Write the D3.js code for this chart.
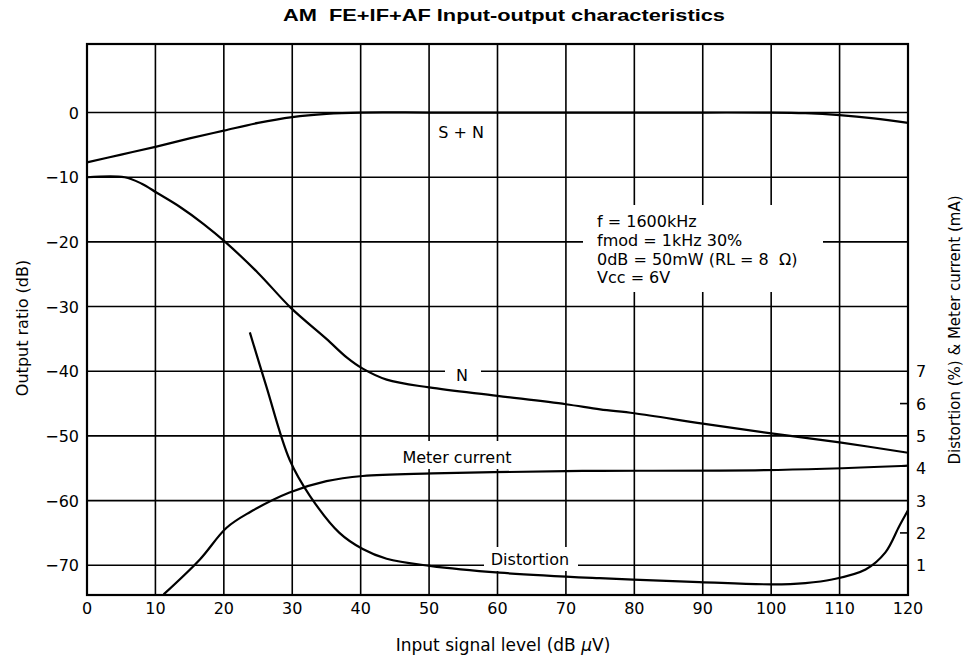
<!DOCTYPE html>
<html>
<head>
<meta charset="utf-8">
<script src="https://cdn.jsdelivr.net/npm/d3@7"></script>
<style>
  html, body { margin: 0; padding: 0; background: #fff; }
  svg { display: block; }
  text { font-family: "DejaVu Sans", "Liberation Sans", Arial, sans-serif; fill: #000; }
</style>
</head>
<body>
<div id="chart"></div>
<script>
// data
const xTicks = [0, 10, 20, 30, 40, 50, 60, 70, 80, 90, 100, 110, 120];
const yTicks = [0, -10, -20, -30, -40, -50, -60, -70];
const rightTicks = [1, 2, 3, 4, 5, 6, 7];

// S + N (dB)
const snX = [0, 5, 10, 15, 20, 25, 30, 35, 40, 50, 60, 70, 80, 90, 100, 105, 110, 115, 120];
const snY = [-7.7, -6.5, -5.3, -4.0, -2.8, -1.6, -0.7, -0.2, 0, 0, 0, 0, 0, 0, 0, -0.1, -0.4, -0.9, -1.6];

// N (dB)
const nX = [0, 5.5, 8, 10.2, 13.6, 17, 20.2, 25, 29.8, 35, 38, 40.3, 43.8, 50, 60, 70, 75, 80, 90, 100, 110, 120];
const nY = [-10, -10, -11, -12.4, -14.6, -17.2, -20, -24.8, -30.2, -35.0, -37.9, -39.6, -41.3, -42.5, -43.8, -45.1, -45.9, -46.5, -48.1, -49.6, -51, -52.6];

// Meter current (mA, right axis)
const meterX = [11.2, 16.5, 20.4, 23.8, 29.6, 35, 40.3, 50.5, 70, 75, 99, 119, 120];
const meterY = [0.1, 1.18, 2.16, 2.64, 3.25, 3.6, 3.76, 3.84, 3.91, 3.92, 3.94, 4.07, 4.08];

// Distortion (%, right axis)
const distX = [23.8, 26.2, 29.6, 32.6, 36.9, 40.3, 43.8, 50.1, 60.3, 74.9, 89.5, 100.2, 105, 108.9, 113.8, 116.7, 118.7, 120];
const distY = [8.2, 6.54, 4.27, 3.14, 2.0, 1.5, 1.2, 0.98, 0.77, 0.6, 0.48, 0.41, 0.45, 0.56, 0.87, 1.4, 2.2, 2.7];

const notes = ["f = 1600kHz", "fmod = 1kHz 30%", "0dB = 50mW (RL = 8  \u03A9)", "Vcc = 6V"];

const width = 968, height = 660;
const plotL = 87, plotR = 908, plotT = 44, plotB = 595;

const svg = d3.select('#chart').append('svg')
    .attr('width', width)
    .attr('height', height);

const x = d3.scaleLinear().domain([0, 120]).range([plotL, plotR]);
const y = d3.scaleLinear().domain([-74.6, 10.6]).range([plotB, plotT]);
// right axis: 1 unit = 5 dB, 0 at -75 dB
const yR = v => y(-75 + 5 * v);

const minus = s => String(s).replace('-', '\u2212');

// grid
const grid = svg.append('g').attr('stroke', '#000').attr('stroke-width', 1.6);
grid.selectAll('line.v')
    .data(xTicks.slice(1, -1))
    .enter().append('line')
    .attr('x1', d => x(d)).attr('x2', d => x(d))
    .attr('y1', plotT).attr('y2', plotB);
grid.selectAll('line.h')
    .data(yTicks)
    .enter().append('line')
    .attr('x1', plotL).attr('x2', plotR)
    .attr('y1', d => y(d)).attr('y2', d => y(d));

// white patches behind labels (grid is interrupted there)
const patches = [
    [583, 205, 240, 87],   // notes box
    [445, 366, 36, 20],    // N
    [398, 441, 118, 28],   // Meter current
    [484, 547, 94, 24]     // Distortion
];
svg.append('g').selectAll('rect')
    .data(patches)
    .enter().append('rect')
    .attr('x', d => d[0]).attr('y', d => d[1])
    .attr('width', d => d[2]).attr('height', d => d[3])
    .attr('fill', '#fff');

// frame
svg.append('rect')
    .attr('x', plotL).attr('y', plotT)
    .attr('width', plotR - plotL).attr('height', plotB - plotT)
    .attr('fill', 'none')
    .attr('stroke', '#000')
    .attr('stroke-width', 2.2);

// small ticks on the right axis
svg.append('g').selectAll('line')
    .data([2, 6])
    .enter().append('line')
    .attr('x1', plotR - 8).attr('x2', plotR)
    .attr('y1', d => yR(d)).attr('y2', d => yR(d))
    .attr('stroke', '#000').attr('stroke-width', 1.6);

// curves
const lineL = d3.line().x(d => x(d[0])).y(d => y(d[1])).curve(d3.curveCatmullRom.alpha(0.5));
const lineR = d3.line().x(d => x(d[0])).y(d => yR(d[1])).curve(d3.curveCatmullRom.alpha(0.5));

const curves = svg.append('g')
    .attr('fill', 'none')
    .attr('stroke', '#000')
    .attr('stroke-width', 2.2)
    .attr('stroke-linejoin', 'round');

curves.append('path').attr('d', lineL(d3.zip(snX, snY)));
curves.append('path').attr('d', lineL(d3.zip(nX, nY)));
curves.append('path').attr('d', lineR(d3.zip(meterX, meterY)));
curves.append('path').attr('d', lineR(d3.zip(distX, distY)));

// tick labels
svg.append('g').selectAll('text')
    .data(yTicks)
    .enter().append('text')
    .attr('x', 79)
    .attr('y', d => y(d) + 6)
    .attr('text-anchor', 'end')
    .style('font-size', '16px')
    .text(d => minus(d));

svg.append('g').selectAll('text')
    .data(xTicks)
    .enter().append('text')
    .attr('x', d => x(d))
    .attr('y', 614)
    .attr('text-anchor', 'middle')
    .style('font-size', '16px')
    .text(d => d);

svg.append('g').selectAll('text')
    .data(rightTicks)
    .enter().append('text')
    .attr('x', 916)
    .attr('y', d => yR(d) + 6)
    .style('font-size', '16px')
    .text(d => d);

// title
svg.append('text')
    .attr('x', 504)
    .attr('y', 21)
    .attr('text-anchor', 'middle')
    .attr('textLength', 442)
    .attr('lengthAdjust', 'spacingAndGlyphs')
    .style('white-space', 'pre')
    .style('font-family', '"Liberation Sans Narrow", "Liberation Sans", sans-serif')
    .style('font-weight', 'bold')
    .style('font-size', '17px')
    .text('AM  FE+IF+AF Input-output characteristics');

// axis titles
svg.append('text')
    .attr('transform', 'translate(28,328) rotate(-90)')
    .attr('text-anchor', 'middle')
    .style('font-size', '16px')
    .text('Output ratio (dB)');

const xt = svg.append('text')
    .attr('x', 503)
    .attr('y', 651)
    .attr('text-anchor', 'middle')
    .style('font-size', '17px');
xt.append('tspan').text('Input signal level (dB ');
xt.append('tspan').style('font-style', 'italic').text('\u03BC');
xt.append('tspan').text('V)');

svg.append('text')
    .attr('transform', 'translate(960,330) rotate(-90)')
    .attr('text-anchor', 'middle')
    .style('font-size', '15px')
    .text('Distortion (%) & Meter current (mA)');

// curve labels
const labels = [
    ['S + N', 461, 138],
    ['N', 462, 381],
    ['Meter current', 457, 463],
    ['Distortion', 530, 565]
];
svg.append('g').selectAll('text')
    .data(labels)
    .enter().append('text')
    .attr('x', d => d[1])
    .attr('y', d => d[2])
    .attr('text-anchor', 'middle')
    .style('font-size', '16px')
    .text(d => d[0]);

// conditions note
svg.append('g').selectAll('text')
    .data(notes)
    .enter().append('text')
    .attr('x', 597)
    .attr('y', (d, i) => 227 + i * 18.8)
    .style('white-space', 'pre')
    .style('font-size', '16px')
    .text(d => d);
</script>
</body>
</html>
